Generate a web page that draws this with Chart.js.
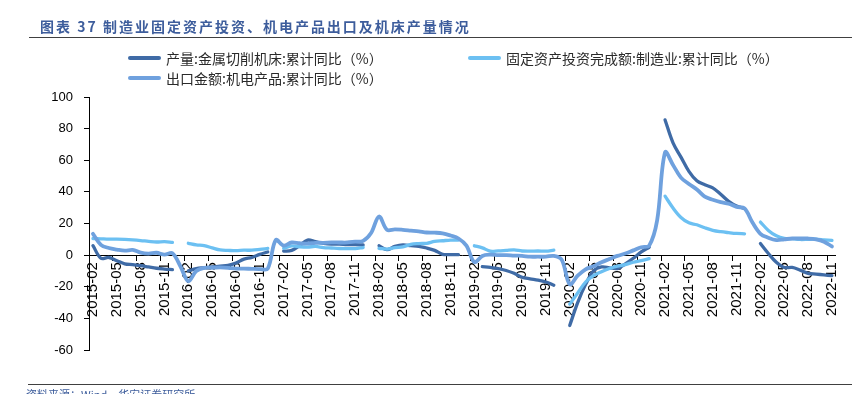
<!DOCTYPE html>
<html lang="zh">
<head>
<meta charset="UTF-8" />
<title>图表 37 制造业固定资产投资、机电产品出口及机床产量情况</title>
<script src="https://cdn.jsdelivr.net/npm/chart.js"></script>
<style>
  * { margin: 0; padding: 0; box-sizing: border-box; }
  body { background: #fff; width: 852px; height: 394px; overflow: hidden; }
  .wrap { position: relative; width: 852px; height: 394px; overflow: hidden; }
  #chart { position: absolute; left: 0; top: 0; }
  .title {
    position: absolute; left: 40px; top: 16px;
    font: bold 14px "Noto Sans CJK SC", sans-serif;
    letter-spacing: 2px; color: #3d5d9c; white-space: nowrap;
  }
  .rule { position: absolute; right: 0; height: 1px; background: #404040; }
  .legend-item { position: absolute; display: flex; align-items: center; white-space: nowrap;
    font: 14px "Noto Sans CJK SC", sans-serif; color: #2a2a2a; }
  .legend-item .swatch { width: 33px; height: 4px; border-radius: 2px; margin-right: 5px; }
  .source { position: absolute; left: 26px; top: 386px; font: 11px "Noto Sans CJK SC", sans-serif;
    color: #3d5d9c; white-space: nowrap; }
</style>
</head>
<body>
<div class="wrap">
  <canvas id="chart" width="852" height="394"></canvas>
  <div class="title">图表 37 制造业固定资产投资、机电产品出口及机床产量情况</div>
  <div class="rule" style="left:29px; top:37px;"></div>
  <div class="legend-item" style="left:128px; top:48px;"><span class="swatch" style="background:#3f6ba6"></span>产量:金属切削机床:累计同比（%）</div>
  <div class="legend-item" style="left:468px; top:48px;"><span class="swatch" style="background:#6cc0f2"></span>固定资产投资完成额:制造业:累计同比（%）</div>
  <div class="legend-item" style="left:128px; top:68px;"><span class="swatch" style="background:#6fa1de"></span>出口金额:机电产品:累计同比（%）</div>
  <div class="rule" style="left:28px; top:384px;"></div>
  <div class="source">资料来源：Wind，华安证券研究所</div>
</div>
<script>
  // months 2015-02 .. 2022-11 (January kept as an empty slot)
  const firstYear = 2015, lastYear = 2022;
  const months = [];
  for (let y = firstYear; y <= lastYear; y++) {
    for (let m = 1; m <= 12; m++) {
      if (y === firstYear && m < 2) continue;
      if (y === lastYear && m > 11) continue;
      months.push(y + '-' + String(m).padStart(2, '0'));
    }
  }

  // 产量:金属切削机床:累计同比
  const machineTools = [
    6, -2, -1.5, -3.5, -5.5, -6, -6.7, -7.5, -8.3, -8.8, -9.2,
    null, -10, -8.5, -8, -7.5, -7, -6.5, -5, -2.5, -1.5, 0.5, 2,
    null, 2.5, 3, 6, 9.5, 8.5, 7.5, 7, 7, 6.6, 6.6, 6.4,
    null, 6, 3.5, 5.5, 6.5, 6, 5.5, 4.5, 3, 0.5, 0.3, 0.3,
    null, null, -7.3, -7.8, -8.5, -9.7, -11.5, -14, -15, -15.8, -17, -19,
    null, -44.5, -30, -18.5, -10, -7.5, -8, -8.5, -5.5, -2, 2, 5,
    null, 85.5, 71, 62, 53, 47, 44.5, 42.5, 38.5, 34, 31, 29.5,
    null, 7.3, 1, -4.5, -7.8, -7.8, -9.5, -11.5, -12, -12.5, -13
  ];

  // 固定资产投资完成额:制造业:累计同比
  const manufacturingFai = [
    10.5, 10.3, 10.1, 10.1, 9.9, 9.6, 9.2, 8.7, 8.3, 8.5, 8.1,
    null, 7.5, 6.5, 6, 4.6, 3.3, 3, 2.8, 3.1, 3.1, 3.6, 4.2,
    null, 4.3, 5.8, 5.3, 5.1, 5.5, 4.8, 4.5, 4.2, 4.1, 4.1, 4.8,
    null, 4.3, 3.8, 4.8, 5.2, 6.8, 7.3, 7.5, 8.7, 9.1, 9.5, 9.5,
    null, 5.9, 4.6, 2.5, 2.7, 3, 3.3, 2.6, 2.5, 2.6, 2.5, 3.1,
    null, -31, -24, -17, -13, -10.5, -8.5, -7, -6, -4.5, -3.5, -2.2,
    null, 37.3, 29.8, 23.8, 20.4, 19.2, 17.3, 15.7, 14.8, 14.2, 13.7, 13.5,
    null, 20.9, 15.6, 12.2, 10.6, 10.4, 9.9, 10, 10.1, 9.7, 9.3
  ];

  // 出口金额:机电产品:累计同比
  const mechElecExports = [
    13.5, 6.5, 4.5, 3.5, 2.8, 3.3, 1.6, 1, 1.5, 0.3, 1.2,
    -7, -16.5, -10, -8, -8, -7.8, -8, -8.5, -8.5, -8.7, -8.8, -8.5,
    9.5, 6, 8, 7.5, 7.3, 7.8, 7.8, 8, 8, 8, 8.5, 9,
    14, 24.4, 16, 16.3, 16, 15.5, 15, 14.3, 14.2, 13.8, 12.4, 10.5,
    6, -4.5, -0.5, 0.3, 0, 0, -0.3, -0.5, -1, -1, -1, -0.5,
    -3, -18.5, -13, -9, -7, -4.5, -2.5, -0.5, 1, 3, 5, 6,
    22, 65, 57, 49, 45, 41.5, 37, 35, 33.5, 32.5, 30.5, 29.5,
    20.6, 13.5, 11, 9.5, 10, 10.5, 10.5, 10.5, 10, 8.5, 5.5
  ];

  const yTicks = { min: -60, max: 100, step: 20 };

  const lineStyle = (label, data, color, width, order) => ({
    label, data,
    borderColor: color,
    backgroundColor: color,
    borderWidth: width,
    pointRadius: 0,
    tension: 0.35,
    borderCapStyle: 'round',
    borderJoinStyle: 'round',
    spanGaps: false,
    order
  });

  Chart.defaults.font.family = "'Liberation Sans', Arial, sans-serif";
  Chart.defaults.color = '#000';

  new Chart(document.getElementById('chart'), {
    type: 'line',
    data: {
      labels: months,
      datasets: [
        lineStyle('产量:金属切削机床:累计同比（%）', machineTools, '#3f6ba6', 3.3, 2),
        lineStyle('固定资产投资完成额:制造业:累计同比（%）', manufacturingFai, '#6cc0f2', 3.3, 1),
        Object.assign(lineStyle('出口金额:机电产品:累计同比（%）', mechElecExports, '#6fa1de', 3.8, 0), { spanGaps: true })
      ]
    },
    options: {
      responsive: false,
      animation: false,
      devicePixelRatio: 1,
      layout: { padding: { left: 0, top: 97, right: 11, bottom: 44 } },
      plugins: { legend: { display: false }, tooltip: { enabled: false } },
      scales: {
        x: {
          type: 'category',
          position: { y: 0 },
          offset: true,
          grid: {
            offset: true,
            drawOnChartArea: false,
            tickLength: 5,
            color: ctx => (ctx.index !== undefined && ctx.index % 3 === 0) ? '#000' : 'rgba(0,0,0,0)'
          },
          border: { color: '#000', width: 1 },
          ticks: {
            autoSkip: false,
            minRotation: 90,
            maxRotation: 90,
            padding: 2,
            font: { size: 15 },
            callback: (v, i) => i % 3 === 0 ? months[i] : ''
          }
        },
        y: {
          min: yTicks.min,
          max: yTicks.max,
          afterFit: scale => { scale.width = 89; },
          grid: { drawOnChartArea: false, tickLength: 5, color: '#000' },
          border: { color: '#000', width: 1 },
          ticks: {
            stepSize: yTicks.step,
            padding: 11,
            font: { size: 13, family: "'Liberation Sans Narrow', 'Liberation Sans', Arial, sans-serif" }
          }
        }
      }
    }
  });
</script>
</body>
</html>
